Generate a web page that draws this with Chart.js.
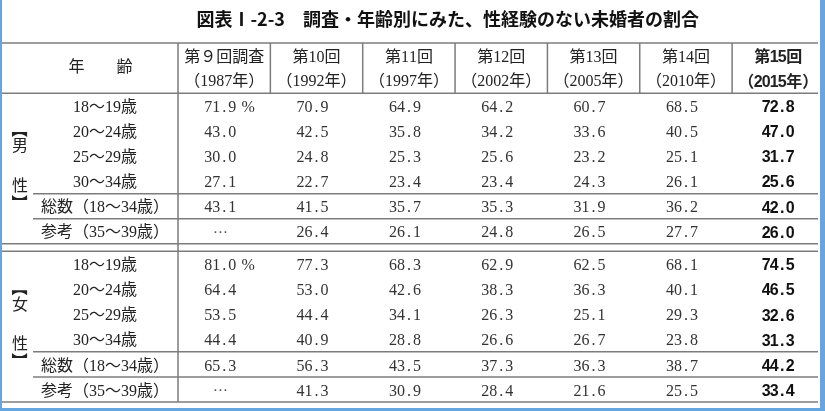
<!DOCTYPE html>
<html lang="ja">
<head>
<meta charset="utf-8">
<title>調査・年齢別にみた、性経験のない未婚者の割合</title>
<script src="https://cdn.jsdelivr.net/npm/chart.js@4.4.1/dist/chart.umd.min.js"></script>
<style>
  html, body { margin: 0; padding: 0; background: #fff; }
  #frame {
    width: 825px; height: 411px; box-sizing: border-box; background: #fff;
    border-left: 2px solid #65a5e0; border-right: 5px solid #65a5e0; border-bottom: 3px solid #65a5e0;
  }
  canvas { display: block; }
</style>
</head>
<body>
<div id="frame"><canvas id="canvas" width="818" height="408"></canvas></div>
<script>
const title = "図表Ⅰ-2-3　調査・年齢別にみた、性経験のない未婚者の割合";

const rounds = ["第９回調査", "第10回", "第11回", "第12回", "第13回", "第14回", "第15回"];
const years = ["（1987年）", "（1992年）", "（1997年）", "（2002年）", "（2005年）", "（2010年）", "（2015年）"];
const ageGroups = ["18～19歳", "20～24歳", "25～29歳", "30～34歳", "総数（18～34歳）", "参考（35～39歳）"];
const genders = ["【男性】", "【女性】"];

// one row per survey round, ages in the order of ageGroups (null = not surveyed)
const maleRates = [
    [71.9, 43.0, 30.0, 27.1, 43.1, null],
    [70.9, 42.5, 24.8, 22.7, 41.5, 26.4],
    [64.9, 35.8, 25.3, 23.4, 35.7, 26.1],
    [64.2, 34.2, 25.6, 23.4, 35.3, 24.8],
    [60.7, 33.6, 23.2, 24.3, 31.9, 26.5],
    [68.5, 40.5, 25.1, 26.1, 36.2, 27.7],
    [72.8, 47.0, 31.7, 25.6, 42.0, 26.0]
];
const femaleRates = [
    [81.0, 64.4, 53.5, 44.4, 65.3, null],
    [77.3, 53.0, 44.4, 40.9, 56.3, 41.3],
    [68.3, 42.6, 34.1, 28.8, 43.5, 30.9],
    [62.9, 38.3, 26.3, 26.6, 37.3, 28.4],
    [62.5, 36.3, 25.1, 26.7, 36.3, 21.6],
    [68.1, 40.1, 29.3, 23.8, 38.7, 25.5],
    [74.5, 46.5, 32.6, 31.3, 44.2, 33.4]
];

// row layout in y units: header takes 2, each gender block 6 rows
const header = 2;
const groupStart = [header, header + 6.3];
const lastRound = rounds.length - 1;

const serif = '"Liberation Serif", "Noto Sans CJK JP", serif';
const gothic = '"Liberation Sans", "Noto Sans CJK JP", sans-serif';

// draw text on a fixed grid: half-width chars get half a cell, like the original mincho table
function monoText(ctx, text, cx, cy, size, align) {
    const chars = [...text];
    const widths = chars.map((c) => (c.charCodeAt(0) > 0xff ? size : size / 2));
    const total = widths.reduce((a, b) => a + b, 0);
    let left = align === "left" ? cx : cx - total / 2;
    ctx.textAlign = "center";
    chars.forEach((c, i) => {
        ctx.fillText(c, left + widths[i] / 2, cy);
        left += widths[i];
    });
    return left;
}

const datasets = rounds.map((round, i) => ({
    label: round,
    data: [maleRates[i], femaleRates[i]].flatMap((rates, g) =>
        rates.map((v, r) => ({ x: i + 0.5, y: groupStart[g] + r + 0.5, v }))
    ),
    pointRadius: 0,
    showLine: false
}));

const tablePlugin = {
    id: "table",
    afterDatasetsDraw(chart) {
        const { ctx } = chart;
        const { x, y } = chart.scales;
        const px = (v) => x.getPixelForValue(v);
        const py = (v) => y.getPixelForValue(v);
        ctx.save();

        // rules
        ctx.strokeStyle = "#7c7c7c";
        ctx.lineWidth = 1.5;
        const hline = (from, at) => {
            ctx.beginPath();
            ctx.moveTo(px(from), py(at));
            ctx.lineTo(px(x.max), py(at));
            ctx.stroke();
        };
        [0, header, groupStart[0] + 6, groupStart[1], y.max].forEach((v) => hline(x.min, v));
        groupStart.forEach((g) => {
            hline(-1.57, g + 4);
            hline(-1.57, g + 5);
        });
        rounds.forEach((r, i) => {
            ctx.beginPath();
            ctx.moveTo(px(i), py(0));
            ctx.lineTo(px(i), py(i === 0 ? y.max : header));
            ctx.stroke();
        });

        ctx.textBaseline = "middle";

        // title
        ctx.fillStyle = "#111";
        ctx.font = 'bold 18px "Noto Sans CJK JP", sans-serif';
        ctx.textAlign = "center";
        ctx.fillText(title, px(2.92), 19);

        // header
        ctx.fillStyle = "#222";
        ctx.font = "16px " + serif;
        monoText(ctx, "年　　齢", px(-0.84), py(1.0), 16);
        rounds.forEach((r, i) => {
            ctx.font = (i === lastRound ? "bold 16px " + gothic : "16px " + serif);
            monoText(ctx, r, px(i + 0.5), py(0.6), 16);
            monoText(ctx, years[i], px(i + 0.5), py(1.56), 16);
        });

        // row labels
        ctx.font = "16px " + serif;
        groupStart.forEach((g, gi) => {
            ageGroups.forEach((a, r) => monoText(ctx, a, px(-0.79), py(g + r + 0.5) + 2, 16));
            // vertical gender label, brackets turned to read top to bottom
            const chars = [...genders[gi]];
            [1.45, 2.15, 3.72, 4.35].forEach((off, k) => {
                const cx = px(-1.711);
                const cy = py(g + off);
                if (k === 0 || k === chars.length - 1) {
                    ctx.save();
                    ctx.translate(cx, cy);
                    ctx.rotate(Math.PI / 2);
                    ctx.font = 'bold 16px "Noto Sans CJK JP"';
                    ctx.textAlign = "center";
                    ctx.fillText(chars[k], 0, 0);
                    ctx.restore();
                } else {
                    ctx.font = "16px " + serif;
                    monoText(ctx, chars[k], cx, cy, 16);
                }
            });
            ctx.font = "16px " + serif;
        });

        // values, placed at the scatter points
        chart.data.datasets.forEach((ds, i) => {
            const meta = chart.getDatasetMeta(i);
            const bold = i === lastRound;
            meta.data.forEach((pt, j) => {
                const v = ds.data[j].v;
                const cx = pt.x - (bold ? 0 : 4);
                const cy = pt.y + 2;
                ctx.font = (bold ? "bold 16px " : "16px ") + (bold ? gothic : serif);
                ctx.fillStyle = bold ? "#111" : "#333";
                if (v === null) {
                    ctx.font = '15px "DejaVu Sans"';
                    ctx.fillStyle = "#555";
                    monoText(ctx, "⋯", cx, cy, 16);
                    return;
                }
                monoText(ctx, v.toFixed(1), cx, cy, 16);
                if (i === 0 && j % ageGroups.length === 0) {
                    monoText(ctx, " %", cx + 16, cy, 16, "left");
                }
            });
        });
        ctx.restore();
    }
};

new Chart(document.getElementById("canvas"), {
    type: "scatter",
    data: { datasets },
    options: {
        responsive: false,
        animation: false,
        events: [],
        layout: { padding: { top: 43, left: 0, right: 2, bottom: 6 } },
        plugins: { legend: { display: false }, tooltip: { enabled: false }, title: { display: false } },
        scales: {
            x: { type: "linear", min: -1.906, max: 6.93, display: false },
            y: { type: "linear", min: 0, max: groupStart[1] + 6, reverse: true, display: false }
        }
    },
    plugins: [tablePlugin]
});
</script>
</body>
</html>
